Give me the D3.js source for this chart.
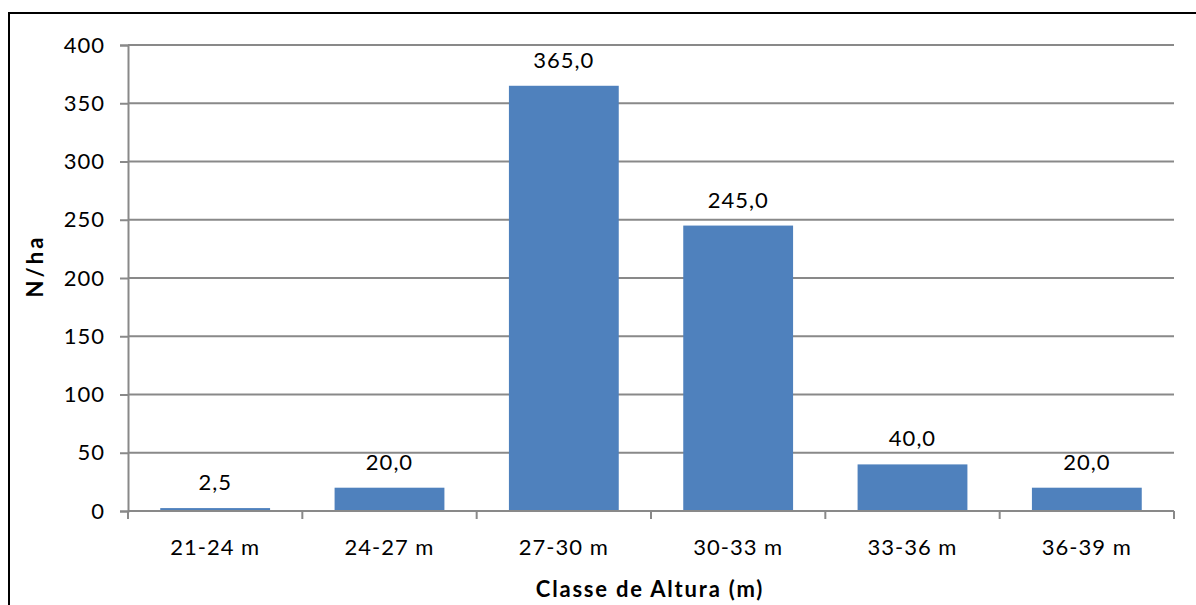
<!DOCTYPE html>
<html>
<head>
<meta charset="utf-8">
<script src="https://cdn.jsdelivr.net/npm/d3@7"></script>
<style>
  html, body { margin: 0; padding: 0; background: #fff; }
  svg { display: block; }
  text { font-family: Lato, "Open Sans", "Liberation Sans", sans-serif; fill: #000; }
</style>
</head>
<body>
<svg id="chart" width="1196" height="605"></svg>
<script>
// Height classes and stem density (N/ha)
const categories = ["21-24 m", "24-27 m", "27-30 m", "30-33 m", "33-36 m", "36-39 m"];
const values = [2.5, 20, 365, 245, 40, 20];
const yTicks = [0, 50, 100, 150, 200, 250, 300, 350, 400];

const svg = d3.select("#chart");
const W = 1196, H = 605;
const margin = { left: 128, right: 22, top: 45, bottom: 94 };
const FONT = 22, SPACING = 1;

// Outer frame
svg.append("rect")
  .attr("x", 9).attr("y", 13)
  .attr("width", W + 10).attr("height", H + 10)
  .attr("fill", "none").attr("stroke", "#000").attr("stroke-width", 2);

const x = d3.scaleBand()
  .domain(categories)
  .range([margin.left, W - margin.right])
  .paddingInner(0.37).paddingOuter(0.185);

const y = d3.scaleLinear()
  .domain([0, 400])
  .range([H - margin.bottom, margin.top]);

const gridColor = "#898989";

// Horizontal gridlines
svg.append("g")
  .selectAll("line")
  .data(yTicks.filter(d => d > 0))
  .join("line")
  .attr("x1", margin.left).attr("x2", W - margin.right)
  .attr("y1", d => y(d)).attr("y2", d => y(d))
  .attr("stroke", gridColor).attr("stroke-width", 2);

// Y axis
const yAxis = svg.append("g")
  .attr("transform", `translate(${margin.left},0)`)
  .call(d3.axisLeft(y).tickValues(yTicks).tickSize(8).tickPadding(15));
yAxis.select(".domain").attr("stroke", gridColor).attr("stroke-width", 2);
yAxis.selectAll(".tick line").attr("stroke", gridColor).attr("stroke-width", 2);
yAxis.selectAll(".tick text")
  .attr("font-size", FONT).attr("fill", "#000")
  .style("letter-spacing", SPACING + "px")
  .style("font-family", "Lato, 'Open Sans', sans-serif");

// Bars
svg.append("g")
  .selectAll("rect")
  .data(values)
  .join("rect")
  .attr("x", (d, i) => x(categories[i]))
  .attr("y", d => y(d))
  .attr("width", x.bandwidth())
  .attr("height", d => y(0) - y(d))
  .attr("fill", "#4f81bd");

// Value labels
svg.append("g")
  .selectAll("text")
  .data(values)
  .join("text")
  .attr("x", (d, i) => x(categories[i]) + x.bandwidth() / 2)
  .attr("y", d => y(d) - 18)
  .attr("text-anchor", "middle")
  .attr("font-size", FONT)
  .style("letter-spacing", SPACING + "px")
  .text(d => d3.format(".1f")(d).replace(".", ","));

// X axis with category boundary ticks
const boundaries = d3.range(categories.length + 1)
  .map(i => margin.left + i * (W - margin.right - margin.left) / categories.length);
const xAxisG = svg.append("g");
xAxisG.append("line")
  .attr("x1", margin.left).attr("x2", W - margin.right)
  .attr("y1", y(0)).attr("y2", y(0))
  .attr("stroke", gridColor).attr("stroke-width", 2);
xAxisG.selectAll("line.b")
  .data(boundaries)
  .join("line")
  .attr("class", "b")
  .attr("x1", d => d).attr("x2", d => d)
  .attr("y1", y(0)).attr("y2", y(0) + 8)
  .attr("stroke", gridColor).attr("stroke-width", 2);
xAxisG.selectAll("text")
  .data(categories)
  .join("text")
  .attr("x", d => x(d) + x.bandwidth() / 2)
  .attr("y", y(0) + 44)
  .attr("text-anchor", "middle")
  .attr("font-size", FONT)
  .style("letter-spacing", SPACING + "px")
  .text(d => d);

// Axis titles
svg.append("text")
  .attr("x", 650)
  .attr("y", 597)
  .attr("text-anchor", "middle")
  .attr("font-size", FONT).attr("font-weight", "bold")
  .style("letter-spacing", "1.8px")
  .text("Classe de Altura (m)");

svg.append("text")
  .attr("transform", "translate(43,266) rotate(-90)")
  .attr("text-anchor", "middle")
  .attr("font-size", FONT).attr("font-weight", "bold")
  .style("letter-spacing", "3px")
  .text("N/ha");
</script>
</body>
</html>
